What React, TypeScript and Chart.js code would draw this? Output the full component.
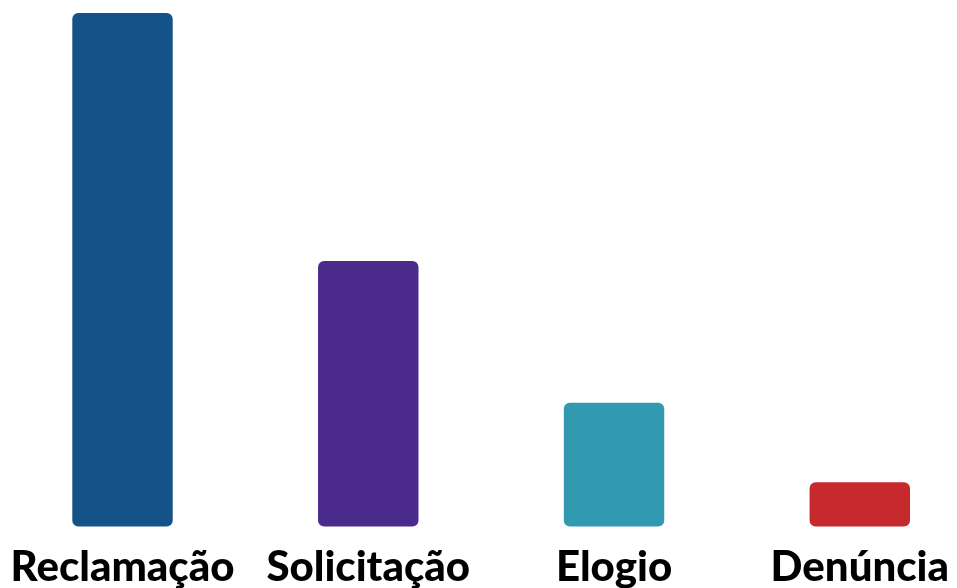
import React, { useEffect, useRef } from "react";
import { Chart, registerables } from "chart.js";

Chart.register(...registerables);

const categories = ["Reclamação", "Solicitação", "Elogio", "Denúncia"];
const values = [58, 30, 14, 5];
const barColors = ["#155287", "#4A2A8B", "#3199B0", "#C62A2D"];

export default function App() {
  const ref = useRef<HTMLCanvasElement | null>(null);
  useEffect(() => {
    document.body.style.margin = "0";
    const ctx = ref.current!;
    const chart = new Chart(ctx, {
      type: "bar",
      data: {
        labels: categories,
        datasets: [
          {
            data: values,
            backgroundColor: barColors,
            borderRadius: 6,
            borderSkipped: false,
            barPercentage: 0.454,
            categoryPercentage: 0.9,
          },
        ],
      },
      options: {
        animation: false,
        responsive: false,
        maintainAspectRatio: false,
        layout: { padding: { left: 122.5, right: 93.5, top: 13, bottom: -13 } },
        plugins: { legend: { display: false }, tooltip: { enabled: false } },
        datasets: { bar: { clip: false as any } },
        scales: {
          x: {
            offset: false,
            grid: { display: false },
            border: { display: false },
            ticks: {
              color: "#000000",
              padding: 8,
              maxRotation: 0,
              autoSkip: false,
              font: { family: "Lato", weight: 900 as any, size: 42 },
            },
          },
          y: { display: false, min: 0, max: 58 },
        },
      },
    });
    return () => chart.destroy();
  }, []);
  return (
    <div style={{ width: 957, height: 588, background: "#ffffff" }}>
      <canvas ref={ref} width={957} height={588} style={{ width: 957, height: 588, display: "block" }} />
    </div>
  );
}
